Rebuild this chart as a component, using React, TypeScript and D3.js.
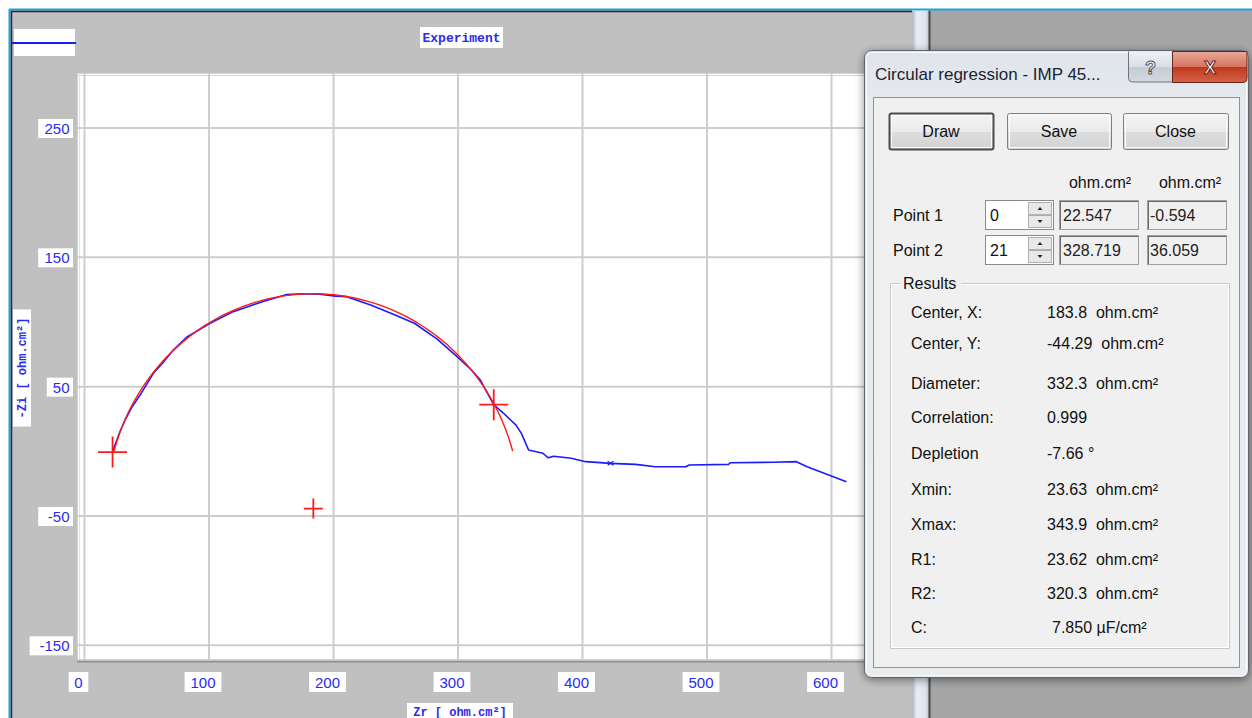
import React from 'react';
import * as d3 from 'd3';

// ---- data ----
const expZr = [22.5, 24, 28, 32.5, 38, 44.6, 55.3, 63, 71.3, 82, 100.8, 119.5, 141, 162.4, 175, 189, 201.8, 210.6, 230.4, 248, 265, 283, 299.3, 310.8, 318, 322.3, 328.7, 336.6, 346.6, 350.9, 356.7, 368.2, 372.5, 376.8, 391, 402.6, 422.6, 442.7, 458.5, 482.9, 485.7, 517.3, 518.8, 553.2, 571.8, 580.4, 612];
const expZi = [-0.6, 3.6, 14, 24.2, 34, 43.5, 60.3, 68.5, 78.3, 88.2, 99, 108, 115, 121.2, 121.8, 121.4, 120, 119.6, 113, 106, 99, 87, 73.2, 62.9, 55.1, 47.4, 36.1, 29.4, 20.3, 13.9, 1, -1.5, -5.0, -3.8, -5.4, -8, -9.3, -10.1, -11.9, -11.9, -10.6, -10.1, -8.8, -8.5, -8.0, -11.9, -23.5];
const xTicks = [0, 100, 200, 300, 400, 500, 600];
const yTicks = [250, 150, 50, -50, -150];
const fitCenter = [183.8, -44.29];
const fitDiameter = 332.3;
const fitXmax = 343.9;
const point1 = [22.547, -0.594];
const point2 = [328.719, 36.059];
const resultLabels = ['Center, X:', 'Center, Y:', 'Diameter:', 'Correlation:', 'Depletion', 'Xmin:', 'Xmax:', 'R1:', 'R2:', 'C:'];
const resultValues = ['183.8  ohm.cm²', '-44.29  ohm.cm²', '332.3  ohm.cm²', '0.999', '-7.66 °', '23.63  ohm.cm²', '343.9  ohm.cm²', '23.62  ohm.cm²', '320.3  ohm.cm²', '7.850 µF/cm²'];
const resultRowY = [312, 343, 383, 417, 453, 489, 524, 559, 593, 627];

const BLUE = '#1a1aff';
const LABEL = '#2a2af0';
const SANS = '"Liberation Sans", Arial, sans-serif';
const MONO = '"Liberation Mono", "Courier New", monospace';

export default function App() {
  const x = d3.scaleLinear().domain([0, 600]).range([84.5, 831.5]);
  const y = d3.scaleLinear().domain([-150, 250]).range([645.3, 128]);

  const expLine = d3.line<number>().x((_, i) => x(expZr[i])).y((_, i) => y(expZi[i]))(expZr) || '';

  const r = fitDiameter / 2;
  const a0 = Math.atan2(point1[1] - fitCenter[1], point1[0] - fitCenter[0]);
  const a1 = Math.acos((fitXmax - fitCenter[0]) / r);
  const angles = d3.range(0, 101).map((k) => a0 + ((a1 - a0) * k) / 100);
  const arcPath = d3.line<number>().x((a) => x(fitCenter[0] + r * Math.cos(a))).y((a) => y(fitCenter[1] + r * Math.sin(a)))(angles) || '';

  const cross = (cx: number, cy: number, hw: number, hh: number) =>
    `M${cx - hw},${cy}H${cx + hw}M${cx},${cy - hh}V${cy + hh}`;

  const plotL = 77, plotT = 73, plotR = 905, plotB = 662;

  const label = (t: string) => t.length * 8.6 + 9;

  return (
    <svg width={1252} height={718} style={{ position: 'absolute', left: 0, top: 0, display: 'block' }}>
      <defs>
        <clipPath id="plotclip"><rect x={plotL} y={plotT} width={plotR - plotL} height={plotB - plotT} /></clipPath>
        <linearGradient id="bar" x1="0" x2="1" y1="0" y2="0">
          <stop offset="0" stopColor="#aeb7c2" />
          <stop offset="0.3" stopColor="#e9eef4" />
          <stop offset="0.8" stopColor="#dde3ea" />
          <stop offset="1" stopColor="#b9c1cb" />
        </linearGradient>
        <linearGradient id="frame" x1="0" x2="0" y1="0" y2="1">
          <stop offset="0" stopColor="#dfe4ea" />
          <stop offset="0.08" stopColor="#e6eaef" />
          <stop offset="1" stopColor="#e9ecef" />
        </linearGradient>
        <linearGradient id="btn" x1="0" x2="0" y1="0" y2="1">
          <stop offset="0" stopColor="#f4f4f4" />
          <stop offset="0.5" stopColor="#ebebeb" />
          <stop offset="0.51" stopColor="#dddddd" />
          <stop offset="1" stopColor="#d2d2d2" />
        </linearGradient>
        <linearGradient id="help" x1="0" x2="0" y1="0" y2="1">
          <stop offset="0" stopColor="#eef1f5" />
          <stop offset="0.5" stopColor="#d9dee5" />
          <stop offset="0.51" stopColor="#c4cbd4" />
          <stop offset="1" stopColor="#d3d9e0" />
        </linearGradient>
        <linearGradient id="closeb" x1="0" x2="0" y1="0" y2="1">
          <stop offset="0" stopColor="#e9a99b" />
          <stop offset="0.5" stopColor="#d7735f" />
          <stop offset="0.51" stopColor="#c1381c" />
          <stop offset="1" stopColor="#d3644a" />
        </linearGradient>
        <filter id="shadow" x="-10%" y="-10%" width="120%" height="120%">
          <feGaussianBlur in="SourceAlpha" stdDeviation="5" />
          <feOffset dx="0" dy="2" />
          <feComponentTransfer><feFuncA type="linear" slope="0.45" /></feComponentTransfer>
          <feMerge><feMergeNode /><feMergeNode in="SourceGraphic" /></feMerge>
        </filter>
      </defs>

      {/* page background */}
      <rect x={0} y={0} width={1252} height={718} fill="#ffffff" />
      <rect x={928} y={9} width={324} height={709} fill="#a6a6a6" />
      {/* chart window */}
      <rect x={9} y={9} width={903} height={709} fill="#c0c0c0" />
      <line x1={9} x2={1252} y1={9.5} y2={9.5} stroke="#1ea0e0" strokeWidth={2} />
      <line x1={9.5} x2={9.5} y1={9} y2={718} stroke="#1ea0e0" strokeWidth={2} />
      <line x1={11} x2={912} y1={11.5} y2={11.5} stroke="#2a2a2a" strokeWidth={1.5} />
      <line x1={11.5} x2={11.5} y1={11} y2={718} stroke="#2a2a2a" strokeWidth={1.5} />
      {/* splitter bar */}
      <rect x={912} y={11} width={17} height={707} fill="url(#bar)" />
      <line x1={929.5} x2={929.5} y1={11} y2={718} stroke="#4a4a4a" strokeWidth={2} />

      {/* legend sample */}
      <rect x={14} y={29} width={61} height={27} fill="#ffffff" />
      <line x1={12} x2={76} y1={43} y2={43} stroke={BLUE} strokeWidth={2} />
      {/* title */}
      <rect x={420} y={27} width={83} height={21} fill="#ffffff" />
      <text x={461.5} y={42} textAnchor="middle" fontFamily={MONO} fontWeight="bold" fontSize={13} fill={LABEL}>Experiment</text>

      {/* plot area */}
      <rect x={plotL} y={plotT} width={plotR - plotL} height={plotB - plotT} fill="#ffffff" />
      <line x1={plotL} x2={plotR} y1={73.5} y2={73.5} stroke="#d4d4d4" />
      <line x1={plotL} x2={plotR} y1={75.5} y2={75.5} stroke="#d4d4d4" />
      <line x1={77.5} x2={77.5} y1={plotT} y2={plotB} stroke="#d4d4d4" />
      <line x1={79.5} x2={79.5} y1={plotT} y2={plotB} stroke="#e2e2e2" />
      <line x1={plotL} x2={plotR} y1={659.5} y2={659.5} stroke="#d0d0d0" />
      <line x1={plotL} x2={plotR} y1={661.5} y2={661.5} stroke="#8e8e8e" strokeWidth={2} />
      <g clipPath="url(#plotclip)">
        {xTicks.map((t) => (
          <line key={'gx' + t} x1={x(t)} x2={x(t)} y1={plotT} y2={659} stroke="#cdcdcd" strokeWidth={2} />
        ))}
        {yTicks.map((t) => (
          <line key={'gy' + t} x1={plotL} x2={plotR} y1={y(t)} y2={y(t)} stroke="#cdcdcd" strokeWidth={2} />
        ))}
        <path d={expLine} fill="none" stroke={BLUE} strokeWidth={1.6} strokeLinejoin="round" />
        <path d={`M${x(422.6) - 3},${y(-9.3) - 2}L${x(422.6) + 3},${y(-9.3) + 2}M${x(422.6) + 3},${y(-9.3) - 2}L${x(422.6) - 3},${y(-9.3) + 2}`} stroke={BLUE} strokeWidth={1.2} />
        <path d={arcPath} fill="none" stroke="#ff1a1a" strokeWidth={1.4} />
        <path d={cross(x(point1[0]), y(point1[1]), 14.5, 15.5)} stroke="#ff1a1a" strokeWidth={1.8} />
        <path d={cross(x(point2[0]), y(point2[1]), 14.5, 15.5)} stroke="#ff1a1a" strokeWidth={1.8} />
        <path d={cross(x(fitCenter[0]), y(fitCenter[1]), 9.5, 10)} stroke="#ff1a1a" strokeWidth={1.8} />
      </g>

      {/* y tick labels */}
      {yTicks.map((t) => {
        const w = label(String(t));
        return (
          <g key={'yl' + t}>
            <rect x={73 - w} y={y(t) - 9} width={w} height={19} fill="#ffffff" />
            <text x={69.5} y={y(t) + 6} textAnchor="end" fontFamily={SANS} fontSize={15} fill={LABEL}>{t}</text>
          </g>
        );
      })}
      {/* x tick labels */}
      {xTicks.map((t) => {
        const w = label(String(t)) + 2;
        const cx = x(t) - 6;
        return (
          <g key={'xl' + t}>
            <rect x={cx - w / 2} y={672} width={w} height={20} fill="#ffffff" />
            <text x={cx} y={688} textAnchor="middle" fontFamily={SANS} fontSize={15} fill={LABEL}>{t}</text>
          </g>
        );
      })}
      {/* axis titles */}
      <g transform="translate(22,368) rotate(-90)">
        <rect x={-58.5} y={-9} width={117} height={18} fill="#ffffff" />
        <text x={0} y={4} textAnchor="middle" fontFamily={MONO} fontWeight="bold" fontSize={12} fill={LABEL}>-Zi [ ohm.cm²]</text>
      </g>
      <rect x={407} y={703} width={106} height={20} fill="#ffffff" />
      <text x={460} y={715.5} textAnchor="middle" fontFamily={MONO} fontWeight="bold" fontSize={12} fill={LABEL}>Zr [ ohm.cm²]</text>

      {/* dialog */}
      <g filter="url(#shadow)">
        <rect x={864.5} y={50.5} width={384} height={627} rx={7} fill="url(#frame)" stroke="#5e6670" />
      </g>
      <rect x={866.5} y={52.5} width={380} height={623} rx={6} fill="none" stroke="#f6f8fa" />
      <text x={875} y={80} fontFamily={SANS} fontSize={17} fill="#1b2333">Circular regression - IMP 45...</text>
      {/* help & close buttons */}
      <path d="M1128.5,51.5V78a4,4 0 0 0 4,4H1172.5V51.5" fill="url(#help)" stroke="#6b7480" />
      <text x={1150.5} y={74} textAnchor="middle" fontFamily={SANS} fontWeight="bold" fontSize={18} fill="#ffffff" stroke="#4e5864" strokeWidth={1}>?</text>
      <path d="M1172.5,51.5V82.5H1243a4,4 0 0 0 4,-4V51.5Z" fill="url(#closeb)" stroke="#6a2418" />
      <text x={1210} y={74} textAnchor="middle" fontFamily={SANS} fontWeight="bold" fontSize={18} fill="#ffffff" stroke="#6a2418" strokeWidth={1}>X</text>

      {/* inner panel */}
      <rect x={873.5} y={97.5} width={366} height={570} fill="#f0f0f0" stroke="#8d939b" />

      {/* buttons */}
      {[
        { t: 'Draw', x0: 889, x1: 993, def: true },
        { t: 'Save', x0: 1007, x1: 1111, def: false },
        { t: 'Close', x0: 1123, x1: 1228, def: false },
      ].map((b) => (
        <g key={b.t}>
          <rect x={b.x0 + 0.5} y={113.5} width={b.x1 - b.x0} height={36} rx={2} fill="url(#btn)" stroke={b.def ? '#4c4c4c' : '#808080'} strokeWidth={b.def ? 2 : 1} />
          <rect x={b.x0 + 2.5} y={115.5} width={b.x1 - b.x0 - 4} height={32} fill="none" stroke="#fafafa" />
          <text x={(b.x0 + b.x1) / 2} y={137} textAnchor="middle" fontFamily={SANS} fontSize={16} fill="#111">{b.t}</text>
        </g>
      ))}

      {/* column headers */}
      <text x={1100} y={188} textAnchor="middle" fontFamily={SANS} fontSize={16} fill="#111">ohm.cm²</text>
      <text x={1190} y={188} textAnchor="middle" fontFamily={SANS} fontSize={16} fill="#111">ohm.cm²</text>

      {/* point rows */}
      {[
        { l: 'Point 1', n: '0', a: '22.547', b: '-0.594', y0: 200 },
        { l: 'Point 2', n: '21', a: '328.719', b: '36.059', y0: 235 },
      ].map((p) => (
        <g key={p.l}>
          <text x={893} y={p.y0 + 21} fontFamily={SANS} fontSize={16} fill="#111">{p.l}</text>
          <rect x={985.5} y={p.y0 + 0.5} width={68} height={29} fill="#ffffff" stroke="#8a8a8a" />
          <text x={990} y={p.y0 + 21} fontFamily={SANS} fontSize={16} fill="#111">{p.n}</text>
          <rect x={1028.5} y={p.y0 + 2.5} width={23} height={12} fill="#e8e8e8" stroke="#b0b0b0" />
          <rect x={1028.5} y={p.y0 + 15.5} width={23} height={12} fill="#e8e8e8" stroke="#b0b0b0" />
          <path d={`M${1040 - 2.5},${p.y0 + 10}h5l-2.5,-3z`} fill="#222" />
          <path d={`M${1040 - 2.5},${p.y0 + 20}h5l-2.5,3z`} fill="#222" />
          <rect x={1059.5} y={p.y0 + 0.5} width={79} height={29} fill="#f0f0f0" stroke="#a0a0a0" />
          <path d={`M${1060},${p.y0 + 1.5}H1138M1060.5,${p.y0 + 1}V${p.y0 + 29}`} stroke="#6a6a6a" />
          <text x={1063} y={p.y0 + 21} fontFamily={SANS} fontSize={16} fill="#222">{p.a}</text>
          <rect x={1147.5} y={p.y0 + 0.5} width={79} height={29} fill="#f0f0f0" stroke="#a0a0a0" />
          <path d={`M${1148},${p.y0 + 1.5}H1226M1148.5,${p.y0 + 1}V${p.y0 + 29}`} stroke="#6a6a6a" />
          <text x={1150} y={p.y0 + 21} fontFamily={SANS} fontSize={16} fill="#222">{p.b}</text>
        </g>
      ))}

      {/* results group */}
      <rect x={890.5} y={283.5} width={339} height={365} fill="none" stroke="#c8c8c8" />
      <rect x={891.5} y={284.5} width={337} height={363} fill="none" stroke="#ffffff" />
      <rect x={901} y={276} width={60} height={14} fill="#f0f0f0" />
      <text x={903} y={289} fontFamily={SANS} fontSize={16} fill="#111">Results</text>
      {resultLabels.map((l, i) => (
        <g key={l}>
          <text x={911} y={resultRowY[i] + 6} fontFamily={SANS} fontSize={16} fill="#111">{l}</text>
          <text x={l === 'C:' ? 1052 : 1047} y={resultRowY[i] + 6} fontFamily={SANS} fontSize={16} fill="#111" style={{ whiteSpace: 'pre' }}>{resultValues[i]}</text>
        </g>
      ))}
    </svg>
  );
}
